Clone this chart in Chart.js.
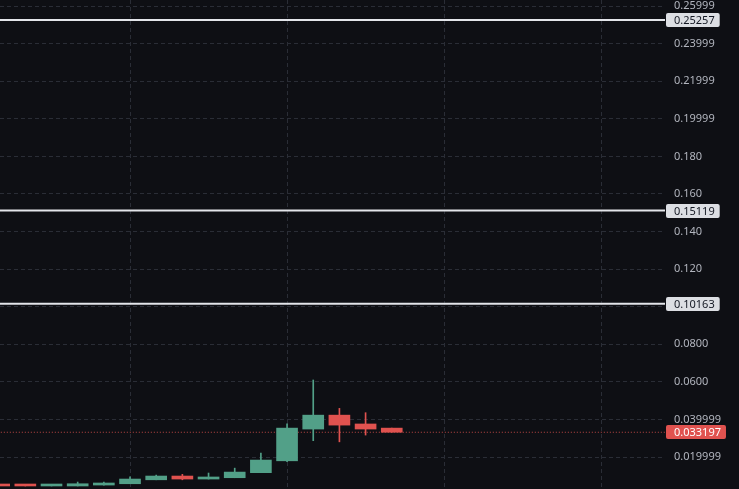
<!DOCTYPE html>
<html>
<head>
<meta charset="utf-8">
<script src="https://cdn.jsdelivr.net/npm/chart.js@4.4.1/dist/chart.umd.min.js"></script>
<style>
  html, body { margin: 0; padding: 0; background: #0e0f14; }
  #wrap { width: 739px; height: 489px; position: relative; }
</style>
</head>
<body>
<div id="wrap"><canvas id="c"></canvas></div>
<script>
// ---- data ----
const candleIdx = [0, 1, 2, 3, 4, 5, 6, 7, 8, 9, 10, 11, 12, 13, 14, 15];
const opens  = [0.0051, 0.0051, 0.0046, 0.0046, 0.0051, 0.0058, 0.0079, 0.0099, 0.0083, 0.0090, 0.0117, 0.0180, 0.0349, 0.0423, 0.0376, 0.0354];
const closes = [0.0046, 0.0046, 0.0050, 0.0058, 0.0062, 0.0083, 0.0099, 0.0083, 0.0094, 0.0120, 0.0184, 0.0354, 0.0423, 0.0370, 0.0349, 0.033197];
const highs  = [0.0051, 0.0051, 0.0050, 0.0067, 0.0067, 0.0095, 0.0104, 0.0108, 0.0115, 0.0141, 0.0221, 0.0377, 0.0610, 0.0459, 0.0436, 0.0354];
const lows   = [0.0046, 0.0046, 0.0046, 0.0046, 0.0051, 0.0058, 0.0079, 0.0079, 0.0083, 0.0090, 0.0117, 0.0175, 0.0287, 0.0281, 0.0317, 0.0332];
const levels = [0.25257, 0.15119, 0.10163];
const levelLabels = ['0.25257', '0.15119', '0.10163'];
const lastPrice = 0.033197;
const lastPriceLabel = '0.033197';
const tickValues = [0.02, 0.04, 0.06, 0.08, 0.10, 0.12, 0.14, 0.16, 0.18, 0.20, 0.22, 0.24, 0.26];
const tickLabels = ['0.019999', '0.039999', '0.0600', '0.0800', '', '0.120', '0.140', '0.160', '0.180', '0.19999', '0.21999', '0.23999', '0.25999'];
const timeGridIdx = [5, 11, 17, 23];

// ---- view settings ----
const X_MIN = 0.032, X_MAX = 25.44;
const Y_MIN = 0.003, Y_MAX = 0.2632;
const UP = '#52a088', DOWN = '#e0524f';
const BG = '#0e0f14', GRID = '#2a2d36', TEXT = '#b2b5be';
const FONT = '"Noto Sans", "Open Sans", sans-serif';

const colorOf = i => closes[i] >= opens[i] ? UP : DOWN;

const labelPlugin = {
  id: 'priceLabels',
  afterDatasetsDraw(chart) {
    const ctx = chart.ctx;
    const y = chart.scales.y;
    const left = chart.chartArea.right + 1;
    ctx.save();
    ctx.font = '11px ' + FONT;
    ctx.textBaseline = 'middle';
    ctx.textAlign = 'left';
    const box = (val, txt, bg, fg) => {
      const py = Math.round(y.getPixelForValue(val));
      const w = ctx.measureText(txt).width + 13;
      ctx.fillStyle = bg;
      ctx.beginPath();
      ctx.roundRect(left, py - 7, w, 14, 2);
      ctx.fill();
      ctx.fillStyle = fg;
      ctx.fillText(txt, left + 8, py + 0.5);
    };
    levels.forEach((v, k) => box(v, levelLabels[k], '#dcdee3', '#131722'));
    box(lastPrice, lastPriceLabel, DOWN, '#ffffff');
    ctx.restore();
  }
};

const bgPlugin = {
  id: 'bg',
  beforeDraw(chart) {
    const ctx = chart.ctx;
    ctx.save();
    ctx.fillStyle = BG;
    ctx.fillRect(0, 0, chart.width, chart.height);
    ctx.restore();
  }
};

const lineData = v => [{ x: X_MIN - 1, y: v }, { x: X_MAX + 1, y: v }];
const noPad = s => { s.paddingTop = 0; s.paddingBottom = 0; s.paddingLeft = 0; s.paddingRight = 0; };

new Chart(document.getElementById('c'), {
  type: 'bar',
  data: {
    datasets: [
      {
        type: 'line',
        data: lineData(lastPrice),
        borderColor: 'rgba(224,82,79,0.85)',
        borderWidth: 1,
        borderDash: [1, 2],
        pointRadius: 0,
        order: 5
      },
      {
        label: 'wicks',
        data: candleIdx.map(i => ({ x: i, y: [lows[i], highs[i]] })),
        backgroundColor: candleIdx.map(colorOf),
        barThickness: 1,
        grouped: false,
        order: 3
      },
      {
        label: 'bodies',
        data: candleIdx.map(i => ({ x: i, y: [opens[i], closes[i]] })),
        backgroundColor: candleIdx.map(colorOf),
        barThickness: 21,
        minBarLength: 2,
        grouped: false,
        order: 2
      },
      ...levels.map(v => ({
        type: 'line',
        data: lineData(v),
        borderColor: '#e3e5ea',
        borderWidth: 2,
        pointRadius: 0,
        order: 1
      }))
    ]
  },
  options: {
    responsive: true,
    maintainAspectRatio: false,
    animation: false,
    layout: { padding: 0 },
    plugins: { legend: { display: false }, tooltip: { enabled: false } },
    scales: {
      x: {
        type: 'linear',
        offset: false,
        min: X_MIN,
        max: X_MAX,
        afterBuildTicks: s => { s.ticks = timeGridIdx.map(v => ({ value: v })); },
        afterFit: s => { s.height = 0; noPad(s); },
        ticks: { display: false },
        grid: { color: GRID, drawTicks: false, lineWidth: 1, offset: false },
        border: { display: false, dash: [4, 3] }
      },
      y: {
        type: 'linear',
        position: 'right',
        min: Y_MIN,
        max: Y_MAX,
        afterBuildTicks: s => { s.ticks = tickValues.map(v => ({ value: v })); },
        afterFit: s => { s.width = 74; noPad(s); },
        ticks: {
          padding: 9,
          color: TEXT,
          font: { family: FONT, size: 11 },
          autoSkip: false,
          callback: (v, i) => tickLabels[i]
        },
        grid: { color: GRID, drawTicks: false, lineWidth: 1 },
        border: { display: false, dash: [4, 3] }
      }
    }
  },
  plugins: [bgPlugin, labelPlugin]
});
</script>
</body>
</html>
